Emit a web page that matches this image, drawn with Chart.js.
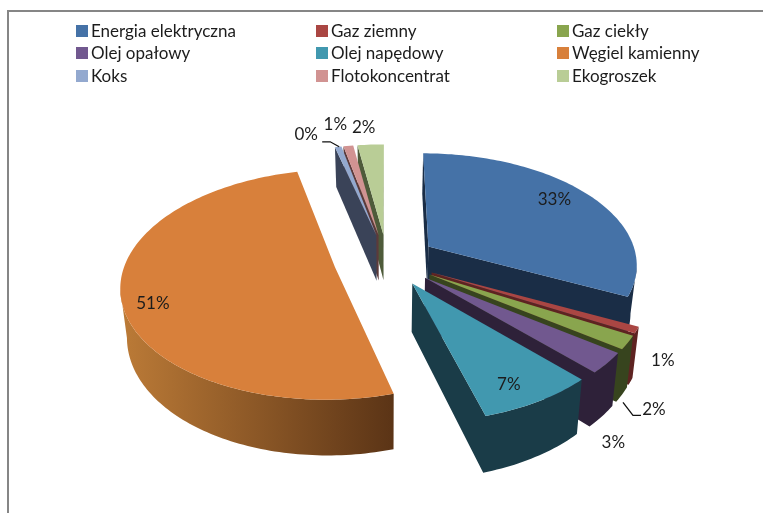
<!DOCTYPE html>
<html><head><meta charset="utf-8">
<style>
html,body{margin:0;padding:0;background:#fff;}
#wrap{position:absolute;left:0;top:0;width:763px;height:513px;}
#frame{position:absolute;left:7px;top:10px;width:756px;height:503px;border-left:2px solid #868686;border-top:2px solid #868686;box-sizing:border-box;pointer-events:none;}
</style>
<script src="https://cdn.jsdelivr.net/npm/chart.js@4"></script>
</head><body>
<div id="wrap"><canvas id="c" width="763" height="513"></canvas><div id="frame"></div></div>
<script>
const categories = ["Energia elektryczna","Gaz ziemny","Gaz ciekły","Olej opałowy","Olej napędowy","Węgiel kamienny","Koks","Flotokoncentrat","Ekogroszek"];
const shares = [32.6,0.9,1.9,2.9,7.7,51.0,0.6,0.9,2.4];
const valueLabels = ["33%","1%","2%","3%","7%","51%","0%","1%","2%"];
const topColors = ["#4572a7","#aa4643","#89a54e","#71588f","#4198af","#d8803b","#93a9cf","#d19392","#b9cd96"];
const sideFrom = ["#1a2d46","#5e2321","#37441e","#2e2139","#1a3c48","#bc7b37","#3a4358","#5c3a3a","#4e5b3a"];
const sideTo   = ["#1a2d46","#5e2321","#37441e","#2e2139","#1a3c48","#5b3416","#3a4358","#5c3a3a","#4e5b3a"];
const explode  = [54,54,54,54,54,58,54,54,54];

const scene = {
  cx:387, cy:260, vanishY:-490, persp:0.000705, rim:209, depth:47, taper:0.975,
  // label nudges from each slice's rim midpoint
  nudge:[[-33,5],[26,31],[26,67],[6,80],[-30,-17],[32,6],[-32,-12],[-13,-21],[-7,-17]],
  // leader lines, relative to the label centre
  leaders:{2:[[-13,6],[-21,6],[-31,-7]],6:[[16,7],[24,7],[33,12]]},
  drawOrder:[8,7,6,0,1,2,3,4,5],
  font:'17px Lato', textColor:'#1c1c1c',
  legend:{cols:[76,316,557],rows:[25,47,70],box:12,gap:3}
};

function project(X,Y,low){
  const s=1/(1-scene.persp*Y);
  if(low) return {x:scene.cx+X*s*scene.taper,y:scene.vanishY+(scene.cy-scene.vanishY)*s+scene.depth*s};
  return {x:scene.cx+X*s,y:scene.vanishY+(scene.cy-scene.vanishY)*s};
}

const pie3d = {
  id:'pie3d',
  beforeDatasetsDraw(chart){
    const ctx=chart.ctx, arcs=chart.getDatasetMeta(0).data;
    const world=arcs.map(el=>{
      const p=el.getProps(['startAngle','endAngle','outerRadius']);
      const u=scene.rim/p.outerRadius, off=el.options.offset*u, mid=(p.startAngle+p.endAngle)/2;
      return {a0:p.startAngle,a1:p.endAngle,mid,ox:Math.cos(mid)*off,oy:Math.sin(mid)*off};
    });
    const outline=w=>{
      const pts=[[w.ox,w.oy]], n=Math.max(2,Math.ceil((w.a1-w.a0)/0.02));
      for(let i=0;i<=n;i++){const a=w.a0+(w.a1-w.a0)*i/n;pts.push([w.ox+Math.cos(a)*scene.rim,w.oy+Math.sin(a)*scene.rim]);}
      return pts;
    };
    ctx.save();
    scene.drawOrder.forEach(i=>{
      const pts=outline(world[i]);
      const top=pts.map(p=>project(p[0],p[1],false)), low=pts.map(p=>project(p[0],p[1],true));
      const N=pts.length;
      // walls: every edge that runs right-to-left in clockwise order faces the viewer
      let run=[];
      const flush=()=>{
        if(run.length<2){run=[];return;}
        const xs=run.map(k=>top[k].x);
        const g=ctx.createLinearGradient(Math.min(...xs),0,Math.max(...xs),0);
        g.addColorStop(0,sideFrom[i]);g.addColorStop(1,sideTo[i]);
        ctx.beginPath();
        run.forEach((k,j)=>{j?ctx.lineTo(top[k].x,top[k].y):ctx.moveTo(top[k].x,top[k].y);});
        run.slice().reverse().forEach(k=>ctx.lineTo(low[k].x,low[k].y));
        ctx.closePath();ctx.fillStyle=g;ctx.fill();
        run=[];
      };
      for(let k=0;k<N;k++){
        const j=(k+1)%N;
        if(top[j].x<top[k].x){
          if(!run.length) run.push(k);
          run.push(j);
        } else flush();
      }
      flush();
      ctx.beginPath();
      top.forEach((p,k)=>{k?ctx.lineTo(p.x,p.y):ctx.moveTo(p.x,p.y);});
      ctx.closePath();ctx.fillStyle=topColors[i];ctx.fill();
    });
    // value labels
    ctx.font=scene.font;ctx.textAlign='center';ctx.textBaseline='middle';
    world.forEach((w,i)=>{
      const a=project(w.ox+Math.cos(w.mid)*scene.rim,w.oy+Math.sin(w.mid)*scene.rim,false);
      const lx=a.x+scene.nudge[i][0], ly=a.y+scene.nudge[i][1];
      ctx.fillStyle=scene.textColor;ctx.fillText(valueLabels[i],lx,ly);
      const l=scene.leaders[i];
      if(l){ctx.beginPath();l.forEach((d,k)=>{k?ctx.lineTo(lx+d[0],ly+d[1]):ctx.moveTo(lx+d[0],ly+d[1]);});
        ctx.strokeStyle='#111';ctx.lineWidth=1.3;ctx.stroke();}
    });
    // legend, three aligned columns
    const L=scene.legend;ctx.textAlign='left';
    categories.forEach((c,i)=>{
      const x=L.cols[i%3], y=L.rows[Math.floor(i/3)];
      ctx.fillStyle=topColors[i];ctx.fillRect(x,y,L.box,L.box);
      ctx.fillStyle=scene.textColor;ctx.fillText(c,x+L.box+L.gap,y+L.box/2+0.5);
    });
    ctx.restore();
    return false;
  }
};

new Chart(document.getElementById('c'),{
  type:'pie',
  data:{labels:categories,datasets:[{data:shares,backgroundColor:topColors,borderWidth:0,offset:explode}]},
  options:{responsive:false,animation:false,layout:{padding:0},
    plugins:{legend:{display:false},tooltip:{enabled:false},title:{display:false}}},
  plugins:[pie3d]
});
</script>
</body></html>
